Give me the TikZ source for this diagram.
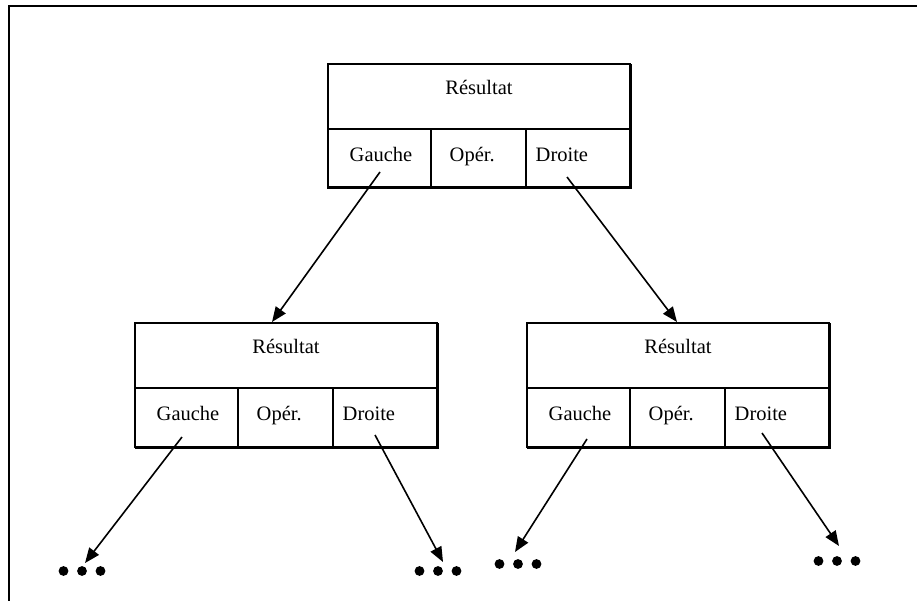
\documentclass[tikz,border=0pt]{standalone}
\usepackage{fontspec}
\setmainfont{Liberation Serif}
\usetikzlibrary{arrows.meta}
\newcommand\myrec[3]{%
  \node[cell,minimum width=302pt,minimum height=65pt,anchor=north west] (#1r) at (#2,#3) {};
  \node[cell,minimum width=103pt,minimum height=59pt,anchor=north west] (#1g) at (#1r.south west) {};
  \node[cell,minimum width=95pt,minimum height=59pt,anchor=north west] (#1o) at (#1g.north east) {};
  \node[cell,minimum width=104pt,minimum height=59pt,anchor=north west] (#1d) at (#1o.north east) {};
  \draw[line width=3pt] (#1g.south west) -- (#1d.south east) -- (#1r.north east);
  \node[ttl] (#1rt) at ([yshift=-30.5pt]#1r.north) {Résultat};
  \node[lbl] (#1gt) at ([xshift=21.5pt,yshift=-32.5pt]#1g.north west) {Gauche};
  \node[lbl] (#1ot) at ([xshift=121.5pt,yshift=-32.5pt]#1g.north west) {Opér.};
  \node[lbl] (#1dt) at ([xshift=207.5pt,yshift=-32.5pt]#1g.north west) {Droite};
}
\newcommand\mydots[3]{%
  \node[dotgrp] (#1) at (#2,#3) {};
  \fill ([xshift=-18.5pt]#1.center) circle (4.9pt);
  \fill (#1.center) circle (4.9pt);
  \fill ([xshift=18.5pt]#1.center) circle (4.9pt);
}
\begin{document}
\begin{tikzpicture}[x=1pt,y=-1pt,
  cell/.style={draw,line width=1.7pt,inner sep=0pt,outer sep=0pt},
  lbl/.style={anchor=base west,inner sep=0pt,font=\fontsize{20.5}{24}\selectfont},
  ttl/.style={anchor=base,inner sep=0pt,font=\fontsize{20.5}{24}\selectfont},
  link/.style={line width=1.6pt,-{Triangle[length=15pt,width=12pt]}},
  dotgrp/.style={inner sep=0pt,minimum width=47pt,minimum height=10pt}]
\useasboundingbox (0,0) rectangle (917,601);
\draw[line width=1.8pt] (9,601) -- (9,6) -- (917,6);

\myrec{T}{328}{64}
\myrec{L}{135}{323}
\myrec{R}{527}{323}

\mydots{d1}{82}{571}
\mydots{d2}{438}{571}
\mydots{d3}{518}{564}
\mydots{d4}{837}{561}

\coordinate (Tgs) at (380,172);
\coordinate (Tds) at (567,177);
\coordinate (Lgs) at (182,437);
\coordinate (Lds) at (375,435);
\coordinate (Rgs) at (587,439);
\coordinate (Rds) at (762,433);
\coordinate (Lin) at (272,322);
\coordinate (Rin) at (677,322);
\coordinate (e1) at (85,563);
\coordinate (e2) at (443,562);
\coordinate (e3) at (515,552);
\coordinate (e4) at (839,546);

\draw[link] (Tgs) -- (Lin);
\draw[link] (Tds) -- (Rin);
\draw[link] (Lgs) -- (e1);
\draw[link] (Lds) -- (e2);
\draw[link] (Rgs) -- (e3);
\draw[link] (Rds) -- (e4);
\end{tikzpicture}
\end{document}
